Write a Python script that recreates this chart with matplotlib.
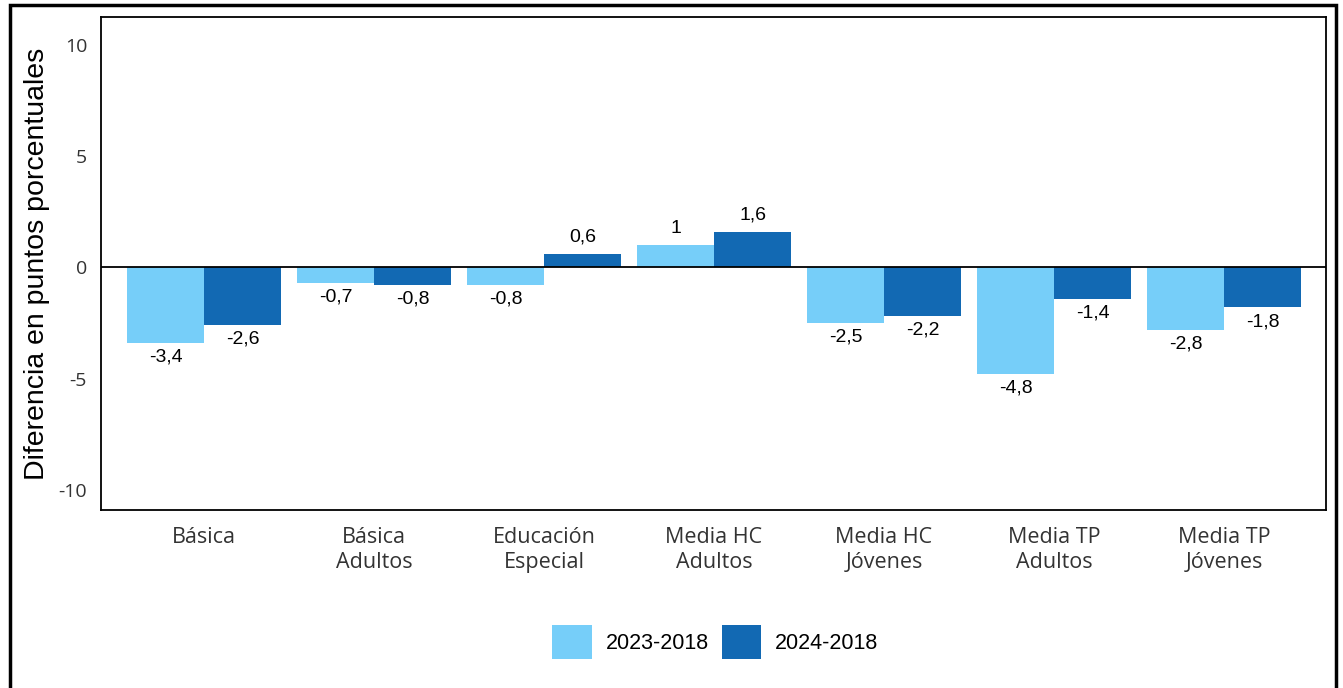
import numpy as np
import matplotlib.pyplot as plt
from matplotlib.patches import Rectangle

# ---------------------------------------------------------------------------
# Datos: diferencia en puntos porcentuales respecto de 2018
# ---------------------------------------------------------------------------
categorias = ['Básica', 'Básica\nAdultos', 'Educación\nEspecial', 'Media HC\nAdultos',
              'Media HC\nJóvenes', 'Media TP\nAdultos', 'Media TP\nJóvenes']
serie_2023 = [-3.4, -0.7, -0.8, 1.0, -2.5, -4.8, -2.8]
serie_2024 = [-2.6, -0.8, 0.6, 1.6, -2.2, -1.4, -1.8]
nombres_series = ['2023-2018', '2024-2018']

COLOR_CLARO  = '#76CEF9'
COLOR_OSCURO = '#1269B3'


def etiqueta(v):
    """Formato con coma decimal, sin decimales si es entero."""
    if float(v).is_integer():
        return f"{int(v)}"
    return f"{v:.1f}".replace('.', ',')


fig = plt.figure(figsize=(13.43, 6.88), dpi=100)
ax = fig.add_axes([101 / 1343, 1 - 510 / 688, (1326 - 101) / 1343, (510 - 17) / 688])

x = np.arange(len(categorias))
ancho = 0.453

b1 = ax.bar(x - ancho / 2, serie_2023, ancho, color=COLOR_CLARO, label=nombres_series[0])
b2 = ax.bar(x + ancho / 2, serie_2024, ancho, color=COLOR_OSCURO, label=nombres_series[1])

for barras in (b1, b2):
    for rect in barras:
        v = rect.get_height()
        cx = rect.get_x() + rect.get_width() / 2
        if v >= 0:
            ax.annotate(etiqueta(v), (cx, v), xytext=(0, 6), textcoords='offset points',
                        ha='center', va='bottom', fontsize=14, family='Liberation Sans')
        else:
            ax.annotate(etiqueta(v), (cx, v), xytext=(0, -4), textcoords='offset points',
                        ha='center', va='top', fontsize=14, family='Liberation Sans')

ax.axhline(0, color='black', lw=1.3, zorder=3)

ax.set_xlim(-0.606, 6.6)
ax.set_ylim(-10.9, 11.25)
ax.set_yticks([-10, -5, 0, 5, 10])
ax.set_yticklabels(['-10', '-5', '0', '5', '10'], family='Open Sans', fontsize=14, color='#333333')
ax.set_xticks(x)
ax.set_xticklabels(categorias, family='Open Sans', fontsize=15.5, color='#333333', linespacing=1.3)
ax.tick_params(axis='y', length=0, pad=10)
ax.tick_params(axis='x', length=0, pad=12)

for s in ax.spines.values():
    s.set_linewidth(1.3)
    s.set_color('black')

ax.set_ylabel('Diferencia en puntos porcentuales', fontsize=20.5, family='Liberation Sans', labelpad=6)

ax.legend(loc='center', bbox_to_anchor=(0.5325, 1 - 642 / 688), bbox_transform=fig.transFigure,
          ncol=2, frameon=False, prop={'family': 'Liberation Sans', 'size': 15.5},
          handlelength=1.85, handleheight=2.1, columnspacing=0.6, handletextpad=0.65)

# marco exterior de la figura
fig.patches.append(Rectangle((10 / 1343, -0.05), (1336 - 10) / 1343, 1 - 5 / 688 + 0.05,
                             transform=fig.transFigure, fill=False, edgecolor='black', lw=2.5))

fig.savefig('out.png', dpi=100)
